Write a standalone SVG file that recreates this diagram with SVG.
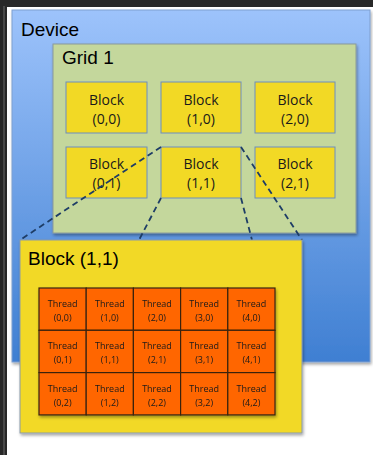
<svg xmlns="http://www.w3.org/2000/svg" width="373" height="455" viewBox="0 0 373 455">
<defs>
<linearGradient id="devGrad" x1="0" y1="0" x2="0" y2="1">
<stop offset="0" stop-color="#9dc3fb"/>
<stop offset="1" stop-color="#3f7fd2"/>
</linearGradient>
<filter id="sh" x="-5%" y="-5%" width="115%" height="115%">
<feDropShadow dx="1" dy="2" stdDeviation="1.5" flood-color="#000" flood-opacity="0.35"/>
</filter>
<style>
.title{font-family:"Liberation Sans",Arial,sans-serif;font-size:19px;fill:#000}
.blk{fill:#f2d925;stroke:#6c8ebf;stroke-width:1}
.blkt{font-family:"Open Sans","Liberation Sans",sans-serif;font-size:14px;fill:#1a1a1a;text-anchor:middle}
.thr{fill:#ff6600;stroke:#3a2410;stroke-width:1.2}
.thrt{font-family:"Open Sans","Liberation Sans",sans-serif;font-size:9px;fill:#1a1a1a;text-anchor:middle}
.dash{stroke:#1e3d66;stroke-width:1.8;stroke-dasharray:6 4;fill:none}
</style>
</defs>
<rect x="0" y="0" width="373" height="455" fill="#ffffff"/>
<rect x="0" y="0" width="373" height="7" fill="#282828"/>
<rect x="0" y="0" width="7" height="455" fill="#282828"/>
<line x1="4" y1="6" x2="4" y2="455" stroke="#6a6a6a" stroke-width="1"/>

<g id="device">
<rect x="12" y="10" width="358" height="352" fill="url(#devGrad)" stroke="#7f9fcf" stroke-width="1" filter="url(#sh)"/>
<text class="title" x="21" y="36">Device</text>
</g>

<g id="grid1">
<rect x="53" y="44" width="303" height="189" fill="#c4d79c" stroke="#8a9a9a" stroke-width="1" filter="url(#sh)"/>
<text class="title" x="62" y="64">Grid 1</text>
</g>

<g id="block00"><rect class="blk" x="66" y="82" width="81" height="51"/><text class="blkt" x="106.5" y="105">Block</text><text class="blkt" x="106.5" y="124">(0,0)</text></g>
<g id="block10"><rect class="blk" x="161" y="82" width="80" height="51"/><text class="blkt" x="201" y="105">Block</text><text class="blkt" x="201" y="124">(1,0)</text></g>
<g id="block20"><rect class="blk" x="255" y="82" width="80" height="51"/><text class="blkt" x="295" y="105">Block</text><text class="blkt" x="295" y="124">(2,0)</text></g>
<g id="block01"><rect class="blk" x="66" y="147" width="81" height="51"/><text class="blkt" x="106.5" y="169">Block</text><text class="blkt" x="106.5" y="188">(0,1)</text></g>
<g id="block11"><rect class="blk" x="161" y="147" width="80" height="51"/><text class="blkt" x="201" y="169">Block</text><text class="blkt" x="201" y="188">(1,1)</text></g>
<g id="block21"><rect class="blk" x="255" y="147" width="80" height="51"/><text class="blkt" x="295" y="169">Block</text><text class="blkt" x="295" y="188">(2,1)</text></g>

<g id="connectors">
<line class="dash" x1="161" y1="147" x2="20" y2="240"/>
<line class="dash" x1="241" y1="147" x2="302" y2="240"/>
<line class="dash" x1="161" y1="198" x2="139" y2="240"/>
<line class="dash" x1="241" y1="198" x2="252" y2="240"/>
</g>

<g id="blockDetail">
<rect x="20" y="240" width="282" height="193" fill="#f2d925" stroke="#8a9aaa" stroke-width="1" filter="url(#sh)"/>
<text class="title" x="28" y="265">Block (1,1)</text>
</g>

<g id="threads" filter="url(#sh)">
<g id="t00"><rect class="thr" x="39" y="288" width="47.2" height="42.3"/><text class="thrt" x="62.6" y="307">Thread</text><text class="thrt" x="62.6" y="321">(0,0)</text></g>
<g id="t10"><rect class="thr" x="86.2" y="288" width="47.2" height="42.3"/><text class="thrt" x="109.8" y="307">Thread</text><text class="thrt" x="109.8" y="321">(1,0)</text></g>
<g id="t20"><rect class="thr" x="133.4" y="288" width="47.2" height="42.3"/><text class="thrt" x="157" y="307">Thread</text><text class="thrt" x="157" y="321">(2,0)</text></g>
<g id="t30"><rect class="thr" x="180.6" y="288" width="47.2" height="42.3"/><text class="thrt" x="204.2" y="307">Thread</text><text class="thrt" x="204.2" y="321">(3,0)</text></g>
<g id="t40"><rect class="thr" x="227.8" y="288" width="47.2" height="42.3"/><text class="thrt" x="251.4" y="307">Thread</text><text class="thrt" x="251.4" y="321">(4,0)</text></g>
<g id="t01"><rect class="thr" x="39" y="330.3" width="47.2" height="42.3"/><text class="thrt" x="62.6" y="349">Thread</text><text class="thrt" x="62.6" y="363">(0,1)</text></g>
<g id="t11"><rect class="thr" x="86.2" y="330.3" width="47.2" height="42.3"/><text class="thrt" x="109.8" y="349">Thread</text><text class="thrt" x="109.8" y="363">(1,1)</text></g>
<g id="t21"><rect class="thr" x="133.4" y="330.3" width="47.2" height="42.3"/><text class="thrt" x="157" y="349">Thread</text><text class="thrt" x="157" y="363">(2,1)</text></g>
<g id="t31"><rect class="thr" x="180.6" y="330.3" width="47.2" height="42.3"/><text class="thrt" x="204.2" y="349">Thread</text><text class="thrt" x="204.2" y="363">(3,1)</text></g>
<g id="t41"><rect class="thr" x="227.8" y="330.3" width="47.2" height="42.3"/><text class="thrt" x="251.4" y="349">Thread</text><text class="thrt" x="251.4" y="363">(4,1)</text></g>
<g id="t02"><rect class="thr" x="39" y="372.6" width="47.2" height="42.3"/><text class="thrt" x="62.6" y="392">Thread</text><text class="thrt" x="62.6" y="406">(0,2)</text></g>
<g id="t12"><rect class="thr" x="86.2" y="372.6" width="47.2" height="42.3"/><text class="thrt" x="109.8" y="392">Thread</text><text class="thrt" x="109.8" y="406">(1,2)</text></g>
<g id="t22"><rect class="thr" x="133.4" y="372.6" width="47.2" height="42.3"/><text class="thrt" x="157" y="392">Thread</text><text class="thrt" x="157" y="406">(2,2)</text></g>
<g id="t32"><rect class="thr" x="180.6" y="372.6" width="47.2" height="42.3"/><text class="thrt" x="204.2" y="392">Thread</text><text class="thrt" x="204.2" y="406">(3,2)</text></g>
<g id="t42"><rect class="thr" x="227.8" y="372.6" width="47.2" height="42.3"/><text class="thrt" x="251.4" y="392">Thread</text><text class="thrt" x="251.4" y="406">(4,2)</text></g>
</g>
</svg>
